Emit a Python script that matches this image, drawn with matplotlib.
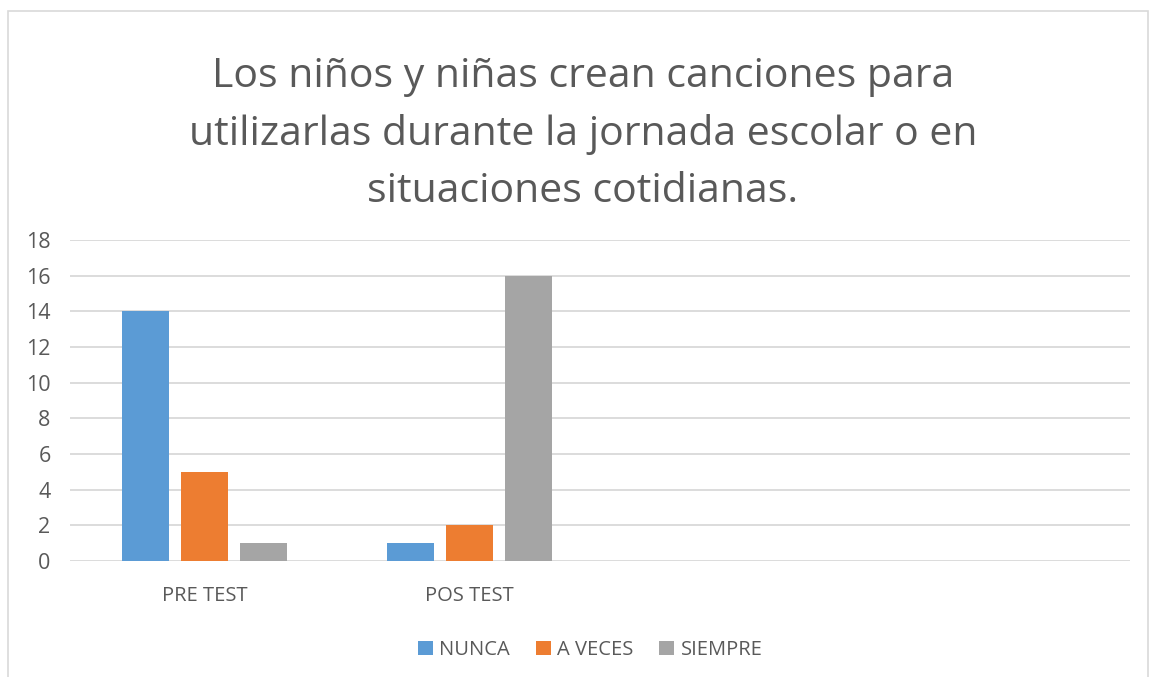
import matplotlib
matplotlib.use("Agg")
import matplotlib.pyplot as plt
import numpy as np
from matplotlib.patches import Rectangle

categories = ["PRE TEST", "POS TEST", "", ""]
series = ["NUNCA", "A VECES", "SIEMPRE"]
nunca = [14, 1, None, None]
a_veces = [5, 2, None, None]
siempre = [1, 16, None, None]
colors = ["#5B9BD5", "#ED7D31", "#A5A5A5"]
yticks = [0, 2, 4, 6, 8, 10, 12, 14, 16, 18]

plt.rcParams['font.family'] = ['Open Sans', 'DejaVu Sans']
txt = "#595959"

fig = plt.figure(figsize=(11.5, 6.77), dpi=100)
ax = fig.add_axes([70/1150, 1-561/677, 1060/1150, 321/677])

x = np.arange(len(categories))
w = 0.177
step = w + 0.045
for i, (vals, name) in enumerate(zip([nunca, a_veces, siempre], series)):
    xs = [xi + (i-1)*step for xi, v in zip(x, vals) if v is not None]
    vs = [v for v in vals if v is not None]
    ax.bar(xs, vs, width=w, color=colors[i], label=name, zorder=3)

ax.set_xlim(-0.508, len(categories) - 0.508)
ax.set_ylim(0, 18)
ax.set_yticks(yticks)
ax.set_xticks(x[:2])
ax.set_xticklabels(categories[:2])
ax.grid(axis="y", color="#D9D9D9", linewidth=1.3, zorder=0)
ax.tick_params(length=0, labelsize=14.5, colors=txt)
ax.tick_params(axis="x", pad=18)
ax.tick_params(axis="y", pad=14, labelsize=15.5)
for s in ax.spines.values():
    s.set_visible(False)

fig.text(0.507, 1-134/677, "Los niños y niñas crean canciones para\nutilizarlas durante la jornada escolar o en\nsituaciones cotidianas.",
         ha="center", va="center", fontsize=29.5, color=txt, linespacing=1.55)

leg = fig.legend(loc="center", bbox_to_anchor=(590/1150, 1-650/677), ncol=3, frameon=False,
                 fontsize=14.5, handlelength=0.75, handleheight=0.75, handletextpad=0.3, columnspacing=1.3)
for t in leg.get_texts():
    t.set_color(txt)

fig.patches.append(Rectangle((8/1150, -0.01), 1140/1150, 1-11/677+0.01, transform=fig.transFigure,
                             fill=False, edgecolor="#D9D9D9", linewidth=1.2))

fig.savefig("out.png", dpi=100)
